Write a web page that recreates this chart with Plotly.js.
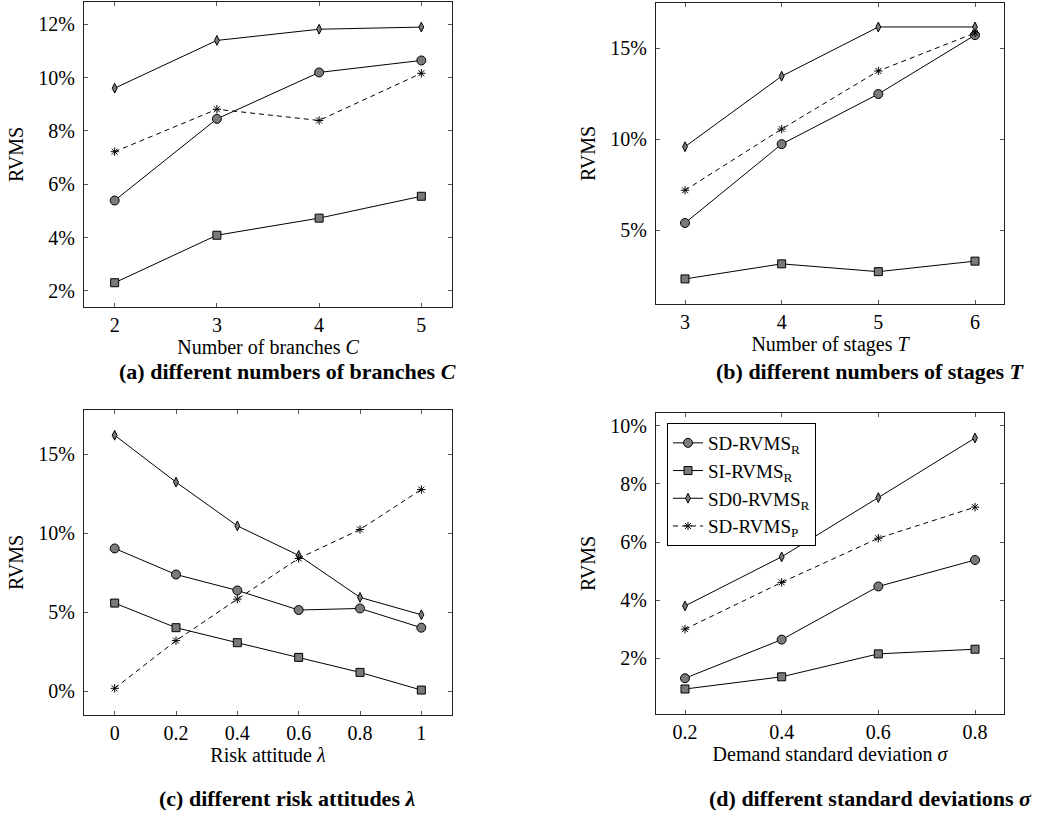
<!DOCTYPE html>
<html>
<head>
<meta charset="utf-8">
<script src="https://cdn.plot.ly/plotly-3.0.1.min.js"></script>
<style>html,body{margin:0;padding:0;background:#fff;}#chart{width:1063px;height:816px;}</style>
</head>
<body>
<div id="chart"></div>
<script>
// ---------- data (values in %) ----------
const branchesC = [2, 3, 4, 5];
const a_SD_R  = [5.39, 8.45, 10.19, 10.64];
const a_SI_R  = [2.31, 4.09, 4.73, 5.55];
const a_SD0_R = [9.60, 11.39, 11.81, 11.89];
const a_SD_P  = [7.22, 8.81, 8.39, 10.16];

const stagesT = [3, 4, 5, 6];
const b_SD_R  = [5.39, 9.73, 12.49, 15.73];
const b_SI_R  = [2.31, 3.14, 2.71, 3.29];
const b_SD0_R = [9.59, 13.47, 16.18, 16.18];
const b_SD_P  = [7.19, 10.56, 13.76, 15.85];

const lambdaRisk = [0, 0.2, 0.4, 0.6, 0.8, 1];
const c_SD_R  = [9.03, 7.38, 6.37, 5.13, 5.23, 4.01];
const c_SI_R  = [5.57, 4.01, 3.06, 2.13, 1.18, 0.06];
const c_SD0_R = [16.20, 13.23, 10.46, 8.59, 5.93, 4.83];
const c_SD_P  = [0.17, 3.19, 5.82, 8.40, 10.23, 12.76];

const sigmaDev = [0.2, 0.4, 0.6, 0.8];
const d_SD_R  = [1.31, 2.64, 4.47, 5.38];
const d_SI_R  = [0.94, 1.36, 2.15, 2.31];
const d_SD0_R = [3.80, 5.49, 7.53, 9.58];
const d_SD_P  = [3.00, 4.61, 6.13, 7.20];

const seriesNames = ['SD-RVMS<sub>R</sub>', 'SI-RVMS<sub>R</sub>', 'SD0-RVMS<sub>R</sub>', 'SD-RVMS<sub>P</sub>'];

const yTicksA = [2, 4, 6, 8, 10, 12];
const yTicksB = [5, 10, 15];
const yTicksC = [0, 5, 10, 15];
const yTicksD = [2, 4, 6, 8, 10];
const xTickLabelsC = ['0', '0.2', '0.4', '0.6', '0.8', '1'];

const captions = [
  '<b>(a) different numbers of branches <i>C</i></b>',
  '<b>(b) different numbers of stages <i>T</i></b>',
  '<b>(c) different risk attitudes <i>λ</i></b>',
  '<b>(d) different standard deviations <i>σ</i></b>'
];
const xTitles = ['Number of branches <i>C</i>', 'Number of stages <i>T</i>', 'Risk attitude <i>λ</i>', 'Demand standard deviation <i>σ</i>'];

// ---------- styles ----------
const FONT = 'Liberation Serif';
const GRAY = '#7a7a7a';
const styles = [
  {mode: 'lines+markers', line: {color: '#000', width: 1}, marker: {symbol: 'circle', size: 9, color: GRAY, line: {color: '#000', width: 1}}},
  {mode: 'lines+markers', line: {color: '#000', width: 1}, marker: {symbol: 'square', size: 8, color: GRAY, line: {color: '#000', width: 1}}},
  {mode: 'lines+markers', line: {color: '#000', width: 1}, marker: {symbol: 'diamond-tall', size: 7, color: GRAY, line: {color: '#000', width: 1}}},
  {mode: 'lines+markers', line: {color: '#000', width: 1, dash: '5px,4px'}, marker: {symbol: 'asterisk-open', size: 7, color: '#000', line: {color: '#000', width: 1}}}
];

const panels = [
  {x: branchesC, ys: [a_SD_R, a_SI_R, a_SD0_R, a_SD_P]},
  {x: stagesT, ys: [b_SD_R, b_SI_R, b_SD0_R, b_SD_P]},
  {x: lambdaRisk, ys: [c_SD_R, c_SI_R, c_SD0_R, c_SD_P]},
  {x: sigmaDev, ys: [d_SD_R, d_SI_R, d_SD0_R, d_SD_P]}
];

const traces = [];
panels.forEach((p, i) => {
  const ax = i === 0 ? '' : String(i + 1);
  p.ys.forEach((y, s) => {
    traces.push(Object.assign({
      type: 'scatter', x: p.x, y: y, name: seriesNames[s],
      xaxis: 'x' + ax, yaxis: 'y' + ax,
      showlegend: i === 3, hoverinfo: 'x+y'
    }, JSON.parse(JSON.stringify(styles[s]))));
  });
});

const W = 1063, H = 816;
function dx(a, b) { return [a / W, b / W]; }
function dy(top, bottom) { return [1 - bottom / H, 1 - top / H]; }

function xAxis(domain, range, anchor, tickvals, ticktext, title) {
  return {
    domain: domain, range: range, anchor: anchor,
    showline: true, linecolor: '#222', linewidth: 1, mirror: 'ticks',
    ticks: 'inside', ticklen: 4, tickcolor: '#555', tickwidth: 1,
    showgrid: false, zeroline: false, tickmode: 'array', tickvals: tickvals,
    ticktext: ticktext || tickvals.map(String),
    tickfont: {family: FONT, size: 20, color: '#000'}, ticklabelstandoff: 0,
    title: {text: title, font: {family: FONT, size: 20, color: '#000'}, standoff: 1},
    automargin: false, fixedrange: true
  };
}
function yAxis(domain, range, anchor, tickvals) {
  return {
    domain: domain, range: range, anchor: anchor,
    showline: true, linecolor: '#222', linewidth: 1, mirror: 'ticks',
    ticks: 'inside', ticklen: 4, tickcolor: '#555', tickwidth: 1,
    showgrid: false, zeroline: false, tickmode: 'array', tickvals: tickvals,
    ticktext: tickvals.map(v => v + '%'),
    tickfont: {family: FONT, size: 20, color: '#000'}, ticklabelstandoff: 4,
    title: {text: 'RVMS', font: {family: FONT, size: 20, color: '#000'}, standoff: 9},
    automargin: false, fixedrange: true
  };
}

const capFont = {family: FONT, size: 22, color: '#000'};
const layout = {
  width: W, height: H,
  margin: {l: 0, r: 0, t: 0, b: 0},
  paper_bgcolor: '#fff', plot_bgcolor: '#fff',
  font: {family: FONT, color: '#000'},
  xaxis:  xAxis(dx(84, 452), [1.7, 5.3], 'y', branchesC, null, xTitles[0]),
  yaxis:  yAxis(dy(2, 307), [1.4, 12.83], 'x', yTicksA),
  xaxis2: xAxis(dx(656, 1004), [2.7, 6.3], 'y2', stagesT, null, xTitles[1]),
  yaxis2: yAxis(dy(3, 304), [0.93, 17.5], 'x2', yTicksB),
  xaxis3: xAxis(dx(84, 452), [-0.1, 1.1], 'y3', lambdaRisk, xTickLabelsC, xTitles[2]),
  yaxis3: yAxis(dy(410, 715), [-1.52, 17.8], 'x3', yTicksC),
  xaxis4: xAxis(dx(656, 1004), [0.14, 0.86], 'y4', sigmaDev, null, xTitles[3]),
  yaxis4: yAxis(dy(413, 714), [0.08, 10.44], 'x4', yTicksD),
  showlegend: true,
  legend: {
    x: 667 / W, y: 1 - 423 / H, xanchor: 'left', yanchor: 'top',
    bgcolor: '#fff', bordercolor: '#000', borderwidth: 1,
    font: {family: FONT, size: 19, color: '#000'},
    itemwidth: 30, tracegroupgap: 0
  },
  annotations: [
    {text: captions[0], xref: 'paper', yref: 'paper', x: 287 / W, y: 1 - 372 / H, showarrow: false, xanchor: 'center', yanchor: 'middle', font: capFont},
    {text: captions[1], xref: 'paper', yref: 'paper', x: 870 / W, y: 1 - 372 / H, showarrow: false, xanchor: 'center', yanchor: 'middle', font: capFont},
    {text: captions[2], xref: 'paper', yref: 'paper', x: 287 / W, y: 1 - 798 / H, showarrow: false, xanchor: 'center', yanchor: 'middle', font: capFont},
    {text: captions[3], xref: 'paper', yref: 'paper', x: 870 / W, y: 1 - 798 / H, showarrow: false, xanchor: 'center', yanchor: 'middle', font: capFont}
  ]
};

Plotly.newPlot('chart', traces, layout, {displayModeBar: false, staticPlot: true});
</script>
</body>
</html>
